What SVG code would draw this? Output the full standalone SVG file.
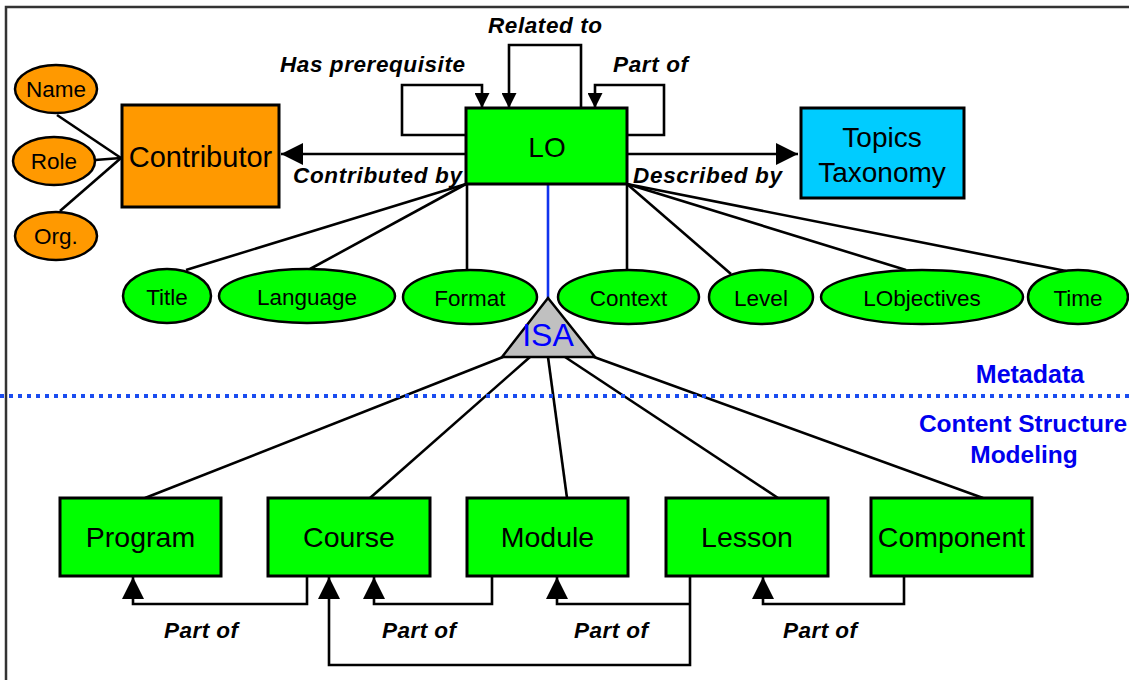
<svg xmlns="http://www.w3.org/2000/svg" width="1129" height="680" viewBox="0 0 1129 680">
<style>
.box{stroke:#000;stroke-width:3}
.ell{stroke:#000;stroke-width:2.5}
.ln{fill:none;stroke:#000;stroke-width:2.6}
.t{font-family:"Liberation Sans",Arial,sans-serif;fill:#000;text-anchor:middle}
.lab{font-family:"Liberation Sans",Arial,sans-serif;font-weight:bold;font-style:italic;font-size:22.5px;fill:#000}
.sec{font-family:"Liberation Sans",Arial,sans-serif;font-weight:bold;fill:#0000EE;text-anchor:middle}
</style>
<defs>
<marker id="big" viewBox="0 0 22 22" refX="22" refY="11" markerWidth="22" markerHeight="22" markerUnits="userSpaceOnUse" orient="auto">
<path d="M0,0 L22,11 L0,22 z" fill="#000"/>
</marker>
<marker id="sm" viewBox="0 0 15 15" refX="15" refY="7.5" markerWidth="15" markerHeight="15" markerUnits="userSpaceOnUse" orient="auto">
<path d="M0,0 L15,7.5 L0,15 z" fill="#000"/>
</marker>
</defs>
<rect width="1129" height="680" fill="#fff"/>
<path d="M6,680 V7 H1129" fill="none" stroke="#333" stroke-width="2.5"/>

<g id="connectors">
<line class="ln" x1="57" y1="115" x2="121" y2="158"/>
<line class="ln" x1="95" y1="160" x2="121" y2="158"/>
<line class="ln" x1="60" y1="211" x2="121" y2="158"/>
<path class="ln" d="M466,154 H281" marker-end="url(#big)"/>
<path class="ln" d="M627,154 H798" marker-end="url(#big)"/>
<path class="ln" d="M466,135 H402 V85 H482 V108" marker-end="url(#sm)"/>
<path class="ln" d="M581,108 V45 H509 V108" marker-end="url(#sm)"/>
<path class="ln" d="M627,135 H664 V85 H595 V108" marker-end="url(#sm)"/>
<line class="ln" x1="466" y1="184" x2="186" y2="270"/>
<line class="ln" x1="466" y1="184" x2="310" y2="269"/>
<line class="ln" x1="467" y1="184" x2="467" y2="271"/>
<line x1="548" y1="184" x2="548" y2="298" stroke="#1133ee" stroke-width="2.6"/>
<line class="ln" x1="627" y1="184" x2="627" y2="271"/>
<line class="ln" x1="627" y1="184" x2="731" y2="274"/>
<line class="ln" x1="627" y1="184" x2="906" y2="270"/>
<line class="ln" x1="627" y1="184" x2="1066" y2="271"/>
<line class="ln" x1="503" y1="357" x2="145" y2="498"/>
<line class="ln" x1="530" y1="357" x2="370" y2="498"/>
<line class="ln" x1="548" y1="357" x2="567" y2="498"/>
<line class="ln" x1="565" y1="357" x2="778" y2="498"/>
<line class="ln" x1="594" y1="357" x2="983" y2="498"/>
<path class="ln" d="M307,576 V604 H133 V577" marker-end="url(#big)"/>
<path class="ln" d="M492,576 V604 H374 V577" marker-end="url(#big)"/>
<path class="ln" d="M690,576 V665 H329 V577" marker-end="url(#big)"/>
<path class="ln" d="M690,604 H557 V577" marker-end="url(#big)"/>
<path class="ln" d="M904,576 V604 H763 V577" marker-end="url(#big)"/>
<text class="lab" x="280" y="72" textLength="185">Has prerequisite</text>
<text class="lab" x="488" y="33" textLength="114">Related to</text>
<text class="lab" x="613" y="72" textLength="75">Part of</text>
<text class="lab" x="293" y="183" textLength="169">Contributed by</text>
<text class="lab" x="633" y="183" textLength="149">Described by</text>
<text class="lab" x="164" y="638" textLength="74">Part of</text>
<text class="lab" x="382" y="638" textLength="74">Part of</text>
<text class="lab" x="574" y="638" textLength="74">Part of</text>
<text class="lab" x="783" y="638" textLength="74">Part of</text>
</g>

<line x1="0" y1="396" x2="1129" y2="396" stroke="#1a4cf0" stroke-width="4" stroke-dasharray="4 5"/>
<text class="sec" x="1030" y="383" font-size="25">Metadata</text>
<text class="sec" x="1023" y="432" font-size="24.5">Content Structure</text>
<text class="sec" x="1024" y="463" font-size="24.5">Modeling</text>

<g id="contributor">
<rect class="box" x="122" y="105" width="157" height="102" fill="#FF9900"/>
<text class="t" x="200.5" y="167" font-size="29">Contributor</text>
</g>
<g id="name">
<ellipse class="ell" cx="56" cy="89" rx="41" ry="24" fill="#FF9900"/>
<text class="t" x="56" y="97" font-size="22.5">Name</text>
</g>
<g id="role">
<ellipse class="ell" cx="54" cy="161" rx="41" ry="24" fill="#FF9900"/>
<text class="t" x="54" y="169" font-size="22.5">Role</text>
</g>
<g id="org">
<ellipse class="ell" cx="56" cy="236" rx="41" ry="24" fill="#FF9900"/>
<text class="t" x="56" y="244" font-size="22.5">Org.</text>
</g>
<g id="lo">
<rect class="box" x="466" y="108" width="161" height="76" fill="#00FF00"/>
<text class="t" x="547" y="157" font-size="28">LO</text>
</g>
<g id="topics">
<rect class="box" x="801" y="108" width="163" height="90" fill="#00CCFF"/>
<text class="t" x="882" y="147" font-size="28">Topics</text>
<text class="t" x="882" y="182" font-size="28">Taxonomy</text>
</g>
<g id="title">
<ellipse class="ell" cx="167" cy="296" rx="44" ry="27" fill="#00FF00"/>
<text class="t" x="167" y="305" font-size="22.5">Title</text>
</g>
<g id="language">
<ellipse class="ell" cx="307" cy="296" rx="88" ry="27" fill="#00FF00"/>
<text class="t" x="307" y="305" font-size="22.5">Language</text>
</g>
<g id="format">
<ellipse class="ell" cx="470" cy="297" rx="67" ry="27" fill="#00FF00"/>
<text class="t" x="470" y="306" font-size="22.5">Format</text>
</g>
<g id="context">
<ellipse class="ell" cx="628.5" cy="297" rx="70.5" ry="27" fill="#00FF00"/>
<text class="t" x="628.5" y="306" font-size="22.5">Context</text>
</g>
<g id="level">
<ellipse class="ell" cx="761" cy="297" rx="52" ry="27" fill="#00FF00"/>
<text class="t" x="761" y="306" font-size="22.5">Level</text>
</g>
<g id="lobjectives">
<ellipse class="ell" cx="922" cy="297" rx="101" ry="27" fill="#00FF00"/>
<text class="t" x="922" y="306" font-size="22.5">LObjectives</text>
</g>
<g id="time">
<ellipse class="ell" cx="1078" cy="297" rx="50" ry="27" fill="#00FF00"/>
<text class="t" x="1078" y="306" font-size="22.5">Time</text>
</g>
<g id="isa">
<polygon points="548,298 502,357 595,357" fill="#C0C0C0" stroke="#000" stroke-width="2.5"/>
<text class="t" x="548" y="346" font-size="32" style="fill:#0000FF">ISA</text>
</g>
<g id="program">
<rect class="box" x="60" y="498" width="161" height="78" fill="#00FF00"/>
<text class="t" x="140.5" y="547" font-size="28.5">Program</text>
</g>
<g id="course">
<rect class="box" x="268" y="498" width="162" height="78" fill="#00FF00"/>
<text class="t" x="349" y="547" font-size="28.5">Course</text>
</g>
<g id="module">
<rect class="box" x="467" y="498" width="161" height="78" fill="#00FF00"/>
<text class="t" x="547.5" y="547" font-size="28.5">Module</text>
</g>
<g id="lesson">
<rect class="box" x="666" y="498" width="162" height="78" fill="#00FF00"/>
<text class="t" x="747" y="547" font-size="28.5">Lesson</text>
</g>
<g id="component">
<rect class="box" x="871" y="498" width="161" height="78" fill="#00FF00"/>
<text class="t" x="951.5" y="547" font-size="28.5">Component</text>
</g>
</svg>
